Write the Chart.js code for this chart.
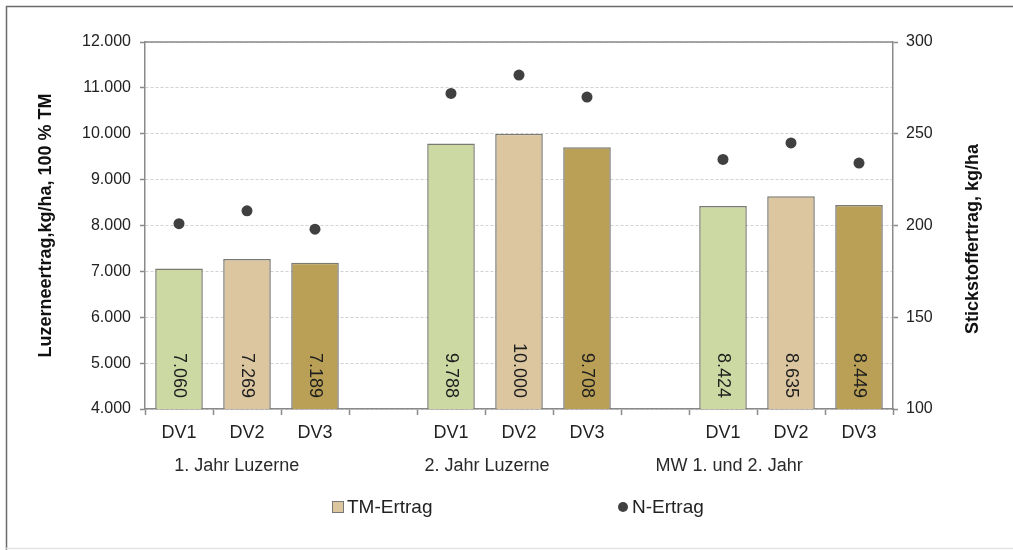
<!DOCTYPE html>
<html>
<head>
<meta charset="utf-8">
<script src="https://cdn.jsdelivr.net/npm/chart.js@4/dist/chart.umd.min.js"></script>
<style>
  html, body { margin: 0; padding: 0; background: #fff; }
  #wrap { width: 1013px; height: 550px; }
</style>
</head>
<body>
<div id="wrap"><canvas id="luzerneChart" width="1013" height="550"></canvas></div>
<script>
// chart data
const categories = ['DV1', 'DV2', 'DV3', '', 'DV1', 'DV2', 'DV3', '', 'DV1', 'DV2', 'DV3'];
const groupLabels = ['1. Jahr Luzerne', '2. Jahr Luzerne', 'MW 1. und 2. Jahr'];
const tmErtrag = [7060, 7269, 7189, null, 9788, 10000, 9708, null, 8424, 8635, 8449];
const nErtrag = [201, 208, 198, null, 272, 282, 270, null, 236, 245, 234];
const leftTicks = [4000, 5000, 6000, 7000, 8000, 9000, 10000, 11000, 12000];
const rightTicks = [100, 150, 200, 250, 300];

const FONT = "'Liberation Sans', Arial, sans-serif";
const green = '#cdd9a3', tan = '#dbc6a0', olive = '#b9a056';
const barColors = categories.map((c, i) => [green, tan, olive][i % 4] || 'transparent');

// german thousands separator
const fmt = v => String(v).replace(/\B(?=(\d{3})+(?!\d))/g, '.');

const extras = {
    id: 'extras',
    beforeDraw(chart) {
        const ctx = chart.ctx;
        ctx.save();
        // outer frame
        ctx.strokeStyle = '#6b6b6b';
        ctx.lineWidth = 1.5;
        ctx.beginPath();
        ctx.moveTo(6.5, 550);
        ctx.lineTo(6.5, 6.5);
        ctx.lineTo(1013, 6.5);
        ctx.stroke();
        ctx.strokeStyle = '#e2e2e2';
        ctx.beginPath();
        ctx.moveTo(6, 548.5);
        ctx.lineTo(1013, 548.5);
        ctx.stroke();
        ctx.restore();
    },
    afterDatasetsDraw(chart) {
        const ctx = chart.ctx;
        const area = chart.chartArea;
        const x = chart.scales.x;
        ctx.save();

        // top border of plot
        ctx.strokeStyle = '#8a8a8a';
        ctx.lineWidth = 1.5;
        ctx.beginPath();
        ctx.moveTo(area.left, area.top);
        ctx.lineTo(area.right, area.top);
        ctx.stroke();

        // rotated value labels in the bars
        const meta = chart.getDatasetMeta(0);
        ctx.fillStyle = '#1e1e1e';
        ctx.font = '18px ' + FONT;
        ctx.textBaseline = 'middle';
        ctx.textAlign = 'right';
        meta.data.forEach((bar, i) => {
            if (tmErtrag[i] == null) return;
            ctx.save();
            ctx.translate(bar.x, area.bottom - 11);
            ctx.rotate(Math.PI / 2);
            ctx.fillText(fmt(tmErtrag[i]), 0, 0);
            ctx.restore();
        });

        // group labels under the DV labels
        const groupPos = [0.85, 4.53, 8.09];
        ctx.fillStyle = '#2a2a2a';
        ctx.font = '18px ' + FONT;
        ctx.textAlign = 'center';
        groupLabels.forEach((g, i) => {
            ctx.fillText(g, x.getPixelForValue(groupPos[i]), 466);
        });

        // right axis title (reads bottom to top)
        ctx.save();
        ctx.translate(973, 239);
        ctx.rotate(-Math.PI / 2);
        ctx.fillStyle = '#111';
        ctx.font = 'bold 18px ' + FONT;
        ctx.fillText('Stickstoffertrag, kg/ha', 0, 0);
        ctx.restore();

        // legend
        ctx.font = '19px ' + FONT;
        ctx.textAlign = 'left';
        ctx.fillStyle = tan;
        ctx.fillRect(332, 501, 12, 12);
        ctx.strokeStyle = '#777';
        ctx.lineWidth = 1;
        ctx.strokeRect(332.5, 501.5, 11, 11);
        ctx.fillStyle = '#222';
        ctx.fillText('TM-Ertrag', 347, 508);
        ctx.fillStyle = '#404040';
        ctx.beginPath();
        ctx.arc(623, 507, 5, 0, Math.PI * 2);
        ctx.fill();
        ctx.fillStyle = '#222';
        ctx.fillText('N-Ertrag', 632, 508);

        ctx.restore();
    }
};

const ctx = document.getElementById('luzerneChart').getContext('2d');
new Chart(ctx, {
    type: 'bar',
    data: {
        labels: categories,
        datasets: [
            {
                label: 'TM-Ertrag',
                data: tmErtrag,
                backgroundColor: barColors,
                borderColor: '#7a7a72',
                borderWidth: 1.5,
                barPercentage: 0.7,
                categoryPercentage: 1.0,
                yAxisID: 'y',
                order: 2
            },
            {
                type: 'line',
                label: 'N-Ertrag',
                data: nErtrag,
                showLine: false,
                pointRadius: 5.5,
                pointHoverRadius: 5.5,
                pointBackgroundColor: '#404040',
                pointBorderWidth: 0,
                yAxisID: 'y1',
                order: 1
            }
        ]
    },
    options: {
        responsive: false,
        animation: false,
        layout: { padding: { top: 42, left: 0, right: 0, bottom: 0 } },
        plugins: {
            legend: { display: false },
            tooltip: { enabled: false }
        },
        scales: {
            x: {
                afterFit(scale) { scale.height = 141; },
                grid: {
                    offset: true,
                    drawOnChartArea: false,
                    drawTicks: true,
                    tickLength: 6,
                    tickColor: '#8a8a8a',
                    tickWidth: 1.5
                },
                border: { color: '#8a8a8a', width: 1.5 },
                ticks: {
                    color: '#222',
                    font: { family: FONT, size: 18 },
                    padding: 7,
                    autoSkip: false,
                    maxRotation: 0
                }
            },
            y: {
                position: 'left',
                min: leftTicks[0],
                max: leftTicks[leftTicks.length - 1],
                afterFit(scale) { scale.width = 145; },
                afterBuildTicks(scale) { scale.ticks = leftTicks.map(v => ({ value: v })); },
                grid: {
                    color: '#d2d2d2',
                    tickColor: '#8a8a8a',
                    tickBorderDash: [],
                    tickLength: 5,
                    tickWidth: 1.5
                },
                border: { color: '#8a8a8a', width: 1.5, dash: [3, 2] },
                ticks: {
                    color: '#222',
                    font: { family: FONT, size: 16 },
                    padding: 9,
                    callback: v => fmt(v)
                },
                title: {
                    display: true,
                    text: 'Luzerneertrag,kg/ha, 100 % TM',
                    color: '#111',
                    font: { family: FONT, size: 18, weight: 'bold' },
                    padding: { top: 35, bottom: 0 }
                }
            },
            y1: {
                position: 'right',
                min: rightTicks[0],
                max: rightTicks[rightTicks.length - 1],
                afterFit(scale) { scale.width = 120; },
                afterBuildTicks(scale) { scale.ticks = rightTicks.map(v => ({ value: v })); },
                grid: {
                    drawOnChartArea: false,
                    tickColor: '#8a8a8a',
                    tickLength: 5,
                    tickWidth: 1.5
                },
                border: { color: '#8a8a8a', width: 1.5 },
                ticks: {
                    color: '#222',
                    font: { family: FONT, size: 16 },
                    padding: 8
                }
            }
        }
    },
    plugins: [extras]
});
</script>
</body>
</html>
